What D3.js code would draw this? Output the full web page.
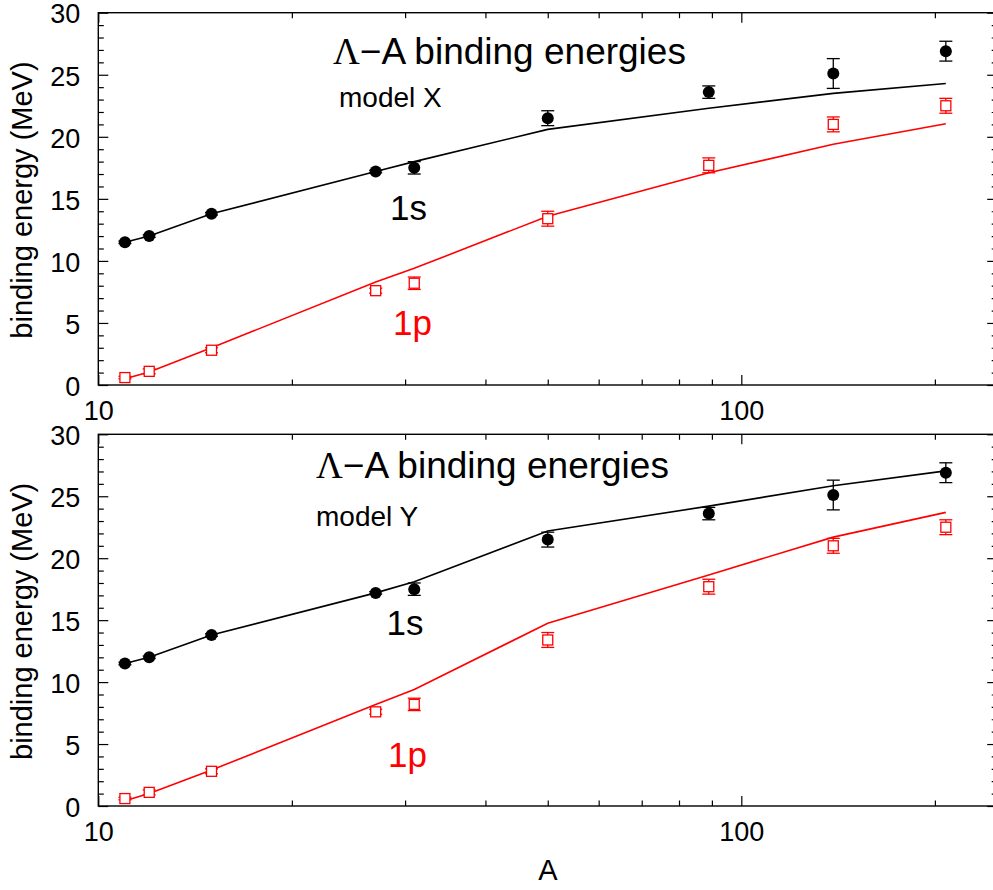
<!DOCTYPE html>
<html>
<head>
<meta charset="utf-8">
<script src="https://cdn.jsdelivr.net/npm/d3@7"></script>
<style>
  html, body { margin: 0; padding: 0; background: #fff; }
  svg { display: block; }
  text { font-family: "Liberation Sans", Arial, Helvetica, sans-serif; }
</style>
</head>
<body>
<svg id="chart" width="993" height="890"></svg>
<script>
// ---- data ----
const massNumbers = [11, 12, 15, 27, 31, 50, 89, 139, 208];
// experimental points (same in both panels)
const exp1s = [11.5, 12.0, 13.8, 17.2, 17.5, 21.5, 23.6, 25.1, 26.9];
const err1s = [0.1, 0.1, 0.1, 0.1, 0.5, 0.6, 0.5, 1.2, 0.8];
const exp1p = [0.6, 1.1, 2.8, 7.6, 8.2, 13.4, 17.7, 21.0, 22.5];
const err1p = [0.1, 0.2, 0.2, 0.2, 0.5, 0.6, 0.6, 0.6, 0.6];
// model X curves
const modelX1s = [11.5, 12.0, 13.8, 17.2, 18.0, 20.6, 22.3, 23.5, 24.3];
const modelX1p = [0.5, 1.05, 3.0, 8.3, 9.4, 13.6, 17.1, 19.4, 21.05];
// model Y curves
const modelY1s = [11.5, 12.0, 13.8, 17.2, 18.1, 22.2, 24.2, 25.85, 27.05];
const modelY1p = [0.43, 1.0, 2.9, 8.2, 9.4, 14.75, 18.65, 21.7, 23.7];
// axis ticks
const xMajorTicks = [10, 100];
const xMinorTicks = [20, 30, 40, 50, 60, 70, 80, 90, 200];
const yMajorTicks = [0, 5, 10, 15, 20, 25, 30];
const yMinorTicks = d3.range(0, 31).filter(v => v % 5 !== 0);
const panelLabels = ["model X", "model Y"];

// ---- layout ----
const svg = d3.select("#chart");
const xLeft = 98.3, xRight = 997.2;
const x = d3.scaleLog().domain([10, 250]).range([xLeft, xRight]);

const panels = [
  { top: 12.7, bottom: 385, model1s: modelX1s, model1p: modelX1p, label: panelLabels[0],
    titleX: 333, titleY: 63.5, labelX: 339, labelY: 107, sX: 390, sY: 219.5, pX: 393, pY: 335 },
  { top: 434.3, bottom: 806, model1s: modelY1s, model1p: modelY1p, label: panelLabels[1],
    titleX: 316, titleY: 477.5, labelX: 316, labelY: 526, sX: 386.5, sY: 635, pX: 388, pY: 766.5 }
];

panels.forEach((p, idx) => {
  const y = d3.scaleLinear().domain([0, 30]).range([p.bottom, p.top]);
  const g = svg.append("g");

  // frame
  g.append("rect")
    .attr("x", xLeft).attr("y", p.top)
    .attr("width", xRight - xLeft).attr("height", p.bottom - p.top)
    .attr("fill", "none").attr("stroke", "#000").attr("stroke-width", 1.4);

  const styleAxis = sel => {
    sel.select(".domain").remove();
    sel.selectAll(".tick line").attr("stroke", "#000").attr("stroke-width", 1.2);
    sel.selectAll(".tick text").attr("fill", "#000").attr("font-size", 27)
      .attr("font-family", '"Liberation Sans", Arial, sans-serif');
  };

  // bottom axis
  g.append("g").attr("transform", `translate(0,${p.bottom})`)
    .call(d3.axisBottom(x).tickValues(xMajorTicks).tickFormat(d3.format("d"))
      .tickSize(-10).tickPadding(16)).call(styleAxis);
  g.append("g").attr("transform", `translate(0,${p.bottom})`)
    .call(d3.axisBottom(x).tickValues(xMinorTicks).tickFormat("").tickSize(-5.5)).call(styleAxis);
  // top axis
  g.append("g").attr("transform", `translate(0,${p.top})`)
    .call(d3.axisTop(x).tickValues(xMajorTicks).tickFormat("").tickSize(-10)).call(styleAxis);
  g.append("g").attr("transform", `translate(0,${p.top})`)
    .call(d3.axisTop(x).tickValues(xMinorTicks).tickFormat("").tickSize(-5.5)).call(styleAxis);
  // left axis
  g.append("g").attr("transform", `translate(${xLeft},0)`)
    .call(d3.axisLeft(y).tickValues(yMajorTicks).tickFormat(d3.format("d"))
      .tickSize(-10).tickPadding(18)).call(styleAxis)
    .call(sel => sel.selectAll(".tick text").attr("dy", "0.38em"));
  g.append("g").attr("transform", `translate(${xLeft},0)`)
    .call(d3.axisLeft(y).tickValues(yMinorTicks).tickFormat("").tickSize(-5.5)).call(styleAxis);
  // right axis
  g.append("g").attr("transform", `translate(${xRight},0)`)
    .call(d3.axisRight(y).tickValues(yMajorTicks).tickFormat("").tickSize(-10)).call(styleAxis);
  g.append("g").attr("transform", `translate(${xRight},0)`)
    .call(d3.axisRight(y).tickValues(yMinorTicks).tickFormat("").tickSize(-5.5)).call(styleAxis);

  // y axis title
  const cy = (p.top + p.bottom) / 2 + 1.2;
  g.append("text")
    .attr("transform", `translate(31.5,${cy}) rotate(-90)`)
    .attr("text-anchor", "middle")
    .attr("font-size", 29)
    .attr("fill", "#000")
    .text("binding energy (MeV)");

  // model curves
  const line = d3.line().x(d => x(d[0])).y(d => y(d[1]));
  g.append("path").datum(massNumbers.map((a, i) => [a, p.model1s[i]]))
    .attr("d", line).attr("fill", "none").attr("stroke", "#000").attr("stroke-width", 1.6);
  g.append("path").datum(massNumbers.map((a, i) => [a, p.model1p[i]]))
    .attr("d", line).attr("fill", "none").attr("stroke", "#ff0000").attr("stroke-width", 1.6);

  // error bars helper
  const drawErr = (vals, errs, color, capHalf) => {
    const eg = g.append("g").attr("stroke", color).attr("stroke-width", 1.3);
    massNumbers.forEach((a, i) => {
      const cx = x(a), y1 = y(vals[i] - errs[i]), y2 = y(vals[i] + errs[i]);
      eg.append("line").attr("x1", cx).attr("x2", cx).attr("y1", y1).attr("y2", y2);
      eg.append("line").attr("x1", cx - capHalf).attr("x2", cx + capHalf).attr("y1", y1).attr("y2", y1);
      eg.append("line").attr("x1", cx - capHalf).attr("x2", cx + capHalf).attr("y1", y2).attr("y2", y2);
    });
  };

  // 1s experimental: filled black circles
  drawErr(exp1s, err1s, "#000", 6.5);
  g.append("g").selectAll("circle").data(massNumbers).join("circle")
    .attr("cx", d => x(d)).attr("cy", (d, i) => y(exp1s[i]))
    .attr("r", 6).attr("fill", "#000");

  // 1p experimental: open red squares
  drawErr(exp1p, err1p, "#ff0000", 6.5);
  g.append("g").selectAll("rect").data(massNumbers).join("rect")
    .attr("x", d => x(d) - 5).attr("y", (d, i) => y(exp1p[i]) - 5)
    .attr("width", 10).attr("height", 10)
    .attr("fill", "#fff").attr("stroke", "#ff0000").attr("stroke-width", 1.3);

  // title
  const t = g.append("text").attr("x", p.titleX).attr("y", p.titleY)
    .attr("font-size", 37).attr("fill", "#000");
  t.append("tspan").attr("font-family", '"Liberation Serif", "Times New Roman", serif').text("Λ");
  t.append("tspan").text("−A binding energies");

  g.append("text").attr("x", p.labelX).attr("y", p.labelY)
    .attr("font-size", 28).attr("fill", "#000").text(p.label);

  g.append("text").attr("x", p.sX).attr("y", p.sY)
    .attr("font-size", 35).attr("fill", "#000").text("1s");
  g.append("text").attr("x", p.pX).attr("y", p.pY)
    .attr("font-size", 35).attr("fill", "#ff0000").text("1p");
});

// x axis title
svg.append("text").attr("x", 548).attr("y", 880)
  .attr("text-anchor", "middle").attr("font-size", 29).attr("fill", "#000").text("A");
</script>
</body>
</html>
